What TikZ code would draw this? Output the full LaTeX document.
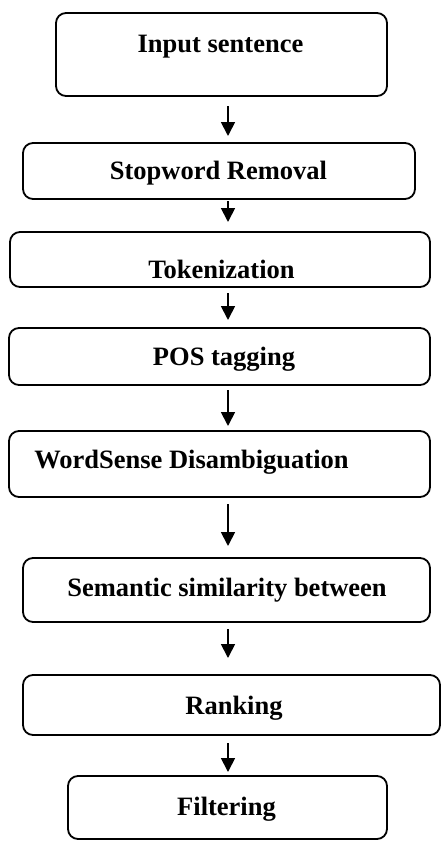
\documentclass[tikz,border=0pt]{standalone}
\usepackage{fontspec}
\setmainfont{Liberation Serif}
\usetikzlibrary{arrows.meta}

\begin{document}
\begin{tikzpicture}[x=0.5pt,y=-0.5pt,
  every node/.style={font=\fontsize{13.25}{16}\selectfont\bfseries},
  stepbox/.style={draw,rounded corners=5pt,line width=0.9pt,inner sep=0pt,outer sep=0pt},
  flow/.style={line width=0.9pt,-{Triangle[length=7pt,width=7pt]}}]
\newcommand{\flowstep}[8]{%
  \node[stepbox,minimum width=#4*0.5pt,minimum height=#5*0.5pt] (#1) at (#2,#3) {};
  \node[anchor=base] at (#6,#7) {#8};}

\useasboundingbox (0,0) rectangle (441,841);

\flowstep{input}{221.5}{54.5}{331}{83}{220.5}{52}{Input sentence}
\flowstep{stop}{219}{171}{392}{56}{218.5}{179}{Stopword Removal}
\flowstep{token}{220}{259.5}{420}{55}{221.5}{278}{Tokenization}
\flowstep{pos}{219.5}{356.5}{421}{57}{224}{365}{POS tagging}
\flowstep{wsd}{219.5}{464}{421}{66}{191.5}{468}{WordSense Disambiguation}
\flowstep{sim}{226.5}{590}{407}{64}{227}{596}{Semantic similarity between}
\flowstep{rank}{231.5}{705}{417}{60}{234}{714}{Ranking}
\flowstep{filter}{227.5}{807.5}{319}{63}{226.5}{815}{Filtering}

\coordinate (axis) at (228,0);
\foreach \a/\b/\s/\e in {input/stop/5pt/3.5pt,stop/token/1pt/5pt,token/pos/3pt/4pt,
    pos/wsd/2.5pt/2.5pt,wsd/sim/3.5pt/6pt,sim/rank/3.5pt/8.5pt,rank/filter/4pt/2pt}
  \draw[flow,shorten <=\s,shorten >=\e] (\a.south -| axis) -- (\b.north -| axis);
\end{tikzpicture}
\end{document}
